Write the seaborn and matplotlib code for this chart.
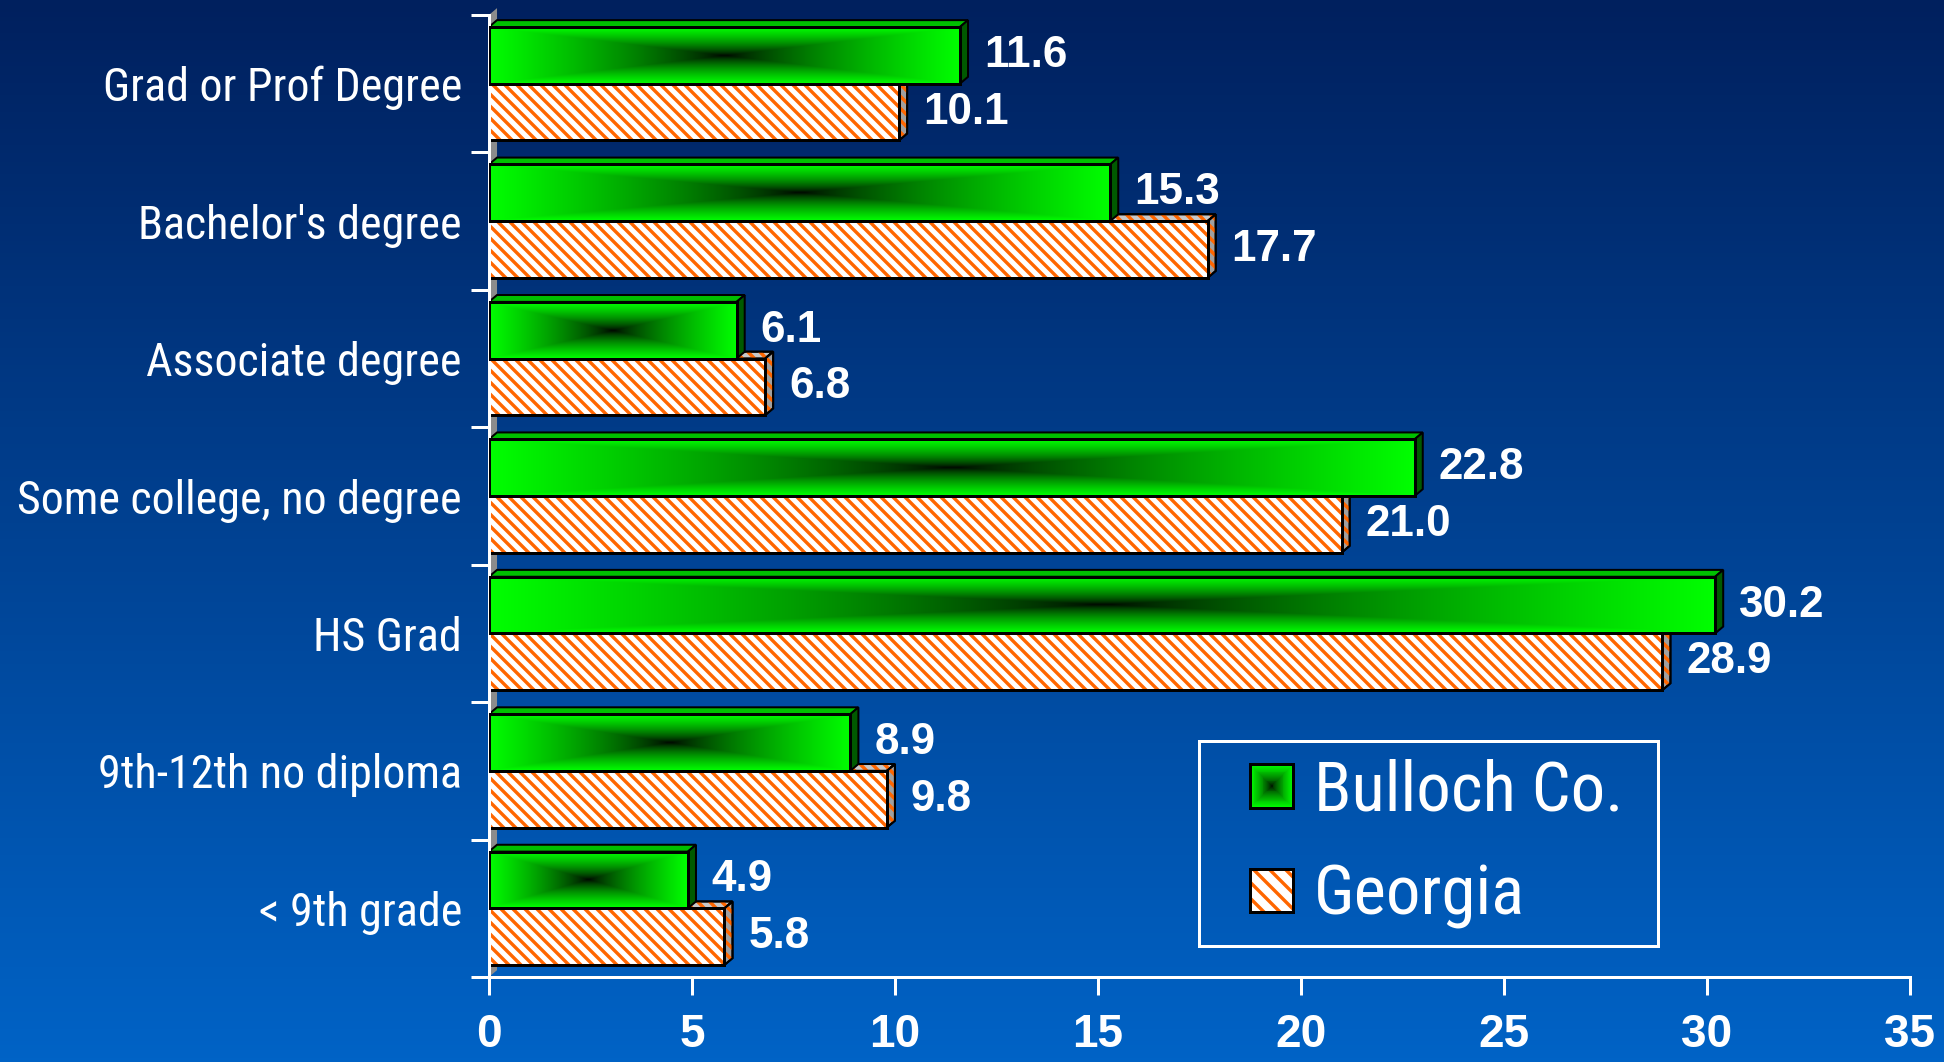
import numpy as np
import pandas as pd
import matplotlib
matplotlib.use("Agg")
from matplotlib import pyplot as plt
from matplotlib import font_manager
from matplotlib.patches import Rectangle, Polygon, Patch
from matplotlib.legend_handler import HandlerBase
import seaborn as sns

categories = ["Grad or Prof Degree", "Bachelor's degree", "Associate degree",
              "Some college, no degree", "HS Grad", "9th-12th no diploma", "< 9th grade"]
bulloch = [11.6, 15.3, 6.1, 22.8, 30.2, 8.9, 4.9]
georgia = [10.1, 17.7, 6.8, 21.0, 28.9, 9.8, 5.8]
series = ["Bulloch Co.", "Georgia"]
xticks = [0, 5, 10, 15, 20, 25, 30, 35]

# narrow face for the labels (Arial Narrow look), whatever is installed
names = {f.name for f in font_manager.fontManager.ttflist}
narrow, stretch = "Liberation Sans", "normal"
for cand in ["Liberation Sans Narrow", "Roboto Condensed", "Open Sans Condensed"]:
    if cand in names:
        narrow = cand
        break
else:
    if any(f.name == "Roboto" and f.stretch == "condensed" for f in font_manager.fontManager.ttflist):
        narrow, stretch = "Roboto", "condensed"
print("narrow font:", narrow, stretch)

df = pd.DataFrame({
    "category": categories * 2,
    "value": bulloch + georgia,
    "series": [series[0]] * len(categories) + [series[1]] * len(categories),
})

sns.set_theme(style="white")
plt.rcParams["font.family"] = ["Liberation Sans", "DejaVu Sans"]
plt.rcParams["hatch.linewidth"] = 1.7

ORANGE = "#FF6600"
HATCH = "\\\\\\\\"

fig = plt.figure(figsize=(13.5, 7.375), dpi=144)
renderer = fig.canvas.get_renderer()


def fit_size(text, target_px, base=20):
    t = fig.text(0, 0, text, fontsize=base, family=[narrow, "DejaVu Sans"], fontstretch=stretch)
    w = t.get_window_extent(renderer).width
    t.remove()
    return base * target_px / w


cat_size = min(23, fit_size("Some college, no degree", 450))
leg_size = min(37, fit_size("Bulloch Co.", 310))

# background gradient
bg = fig.add_axes([0, 0, 1, 1], zorder=-10)
top = np.array([0, 32, 94]) / 255
bot = np.array([0, 99, 198]) / 255
t = np.linspace(0, 1, 256)[:, None]
grad = top + (bot - top) * t
bg.imshow(grad[:, None, :].repeat(2, axis=1), aspect="auto", extent=[0, 1, 0, 1])
bg.set_axis_off()

ax = fig.add_axes([0.2515, 0.080, 0.731, 0.9059], zorder=1)
ax.set_facecolor("none")

sns.barplot(data=df, y="category", x="value", hue="series", hue_order=series,
            orient="h", width=0.825, errorbar=None, legend=False, ax=ax,
            palette=["#00FF00", "white"])

dx, dy = 0.2, 0.05  # 3D depth in data units

# left wall
ax.add_patch(Polygon([(0, 6.5), (dx, 6.5 - dy), (dx, -0.5 - dy), (0, -0.5)],
                     closed=True, fc="#8C8C8C", ec="none", zorder=0.5, clip_on=False))


def faces(p, fc_top, fc_side, hatch, z):
    x0, y0 = p.get_x(), p.get_y()
    x1, y1 = x0 + p.get_width(), y0 + p.get_height()
    # y axis is inverted: y0 is the visual top
    topf = Polygon([(x0, y0), (x0 + dx, y0 - dy), (x1 + dx, y0 - dy), (x1, y0)],
                   closed=True, fc=fc_top, ec="black", lw=1, zorder=z)
    side = Polygon([(x1, y0), (x1 + dx, y0 - dy), (x1 + dx, y1 - dy), (x1, y1)],
                   closed=True, fc=fc_side, ec="black", lw=1, zorder=z)
    ax.add_patch(topf)
    ax.add_patch(side)
    if hatch:
        for f in (topf, side):
            ax.add_patch(Polygon(f.get_xy(), closed=True, fill=False, hatch=HATCH,
                                 ec=ORANGE, lw=0, zorder=z + 0.01))
            ax.add_patch(Polygon(f.get_xy(), closed=True, fill=False, ec="black",
                                 lw=1, zorder=z + 0.02))


# Georgia bars: white with orange stripes
for p in ax.containers[1]:
    faces(p, "#C8C8C8", "#A0A0A0", True, 1.5)
    p.set_facecolor("white")
    p.set_hatch(HATCH)
    p.set_edgecolor(ORANGE)
    p.set_linewidth(0)
    p.set_zorder(2)
    ax.add_patch(Rectangle(p.get_xy(), p.get_width(), p.get_height(),
                           fill=False, ec="black", lw=1.5, zorder=2.1))

# Bulloch bars: green rectangular gradient towards black centre
for p in ax.containers[0]:
    faces(p, "#00C000", "#005A00", False, 2.5)
    u = np.abs(np.linspace(-1, 1, 400))[None, :]
    v = np.abs(np.linspace(-1, 1, 60))[:, None]
    m = np.maximum(u, v) ** 0.7
    img = np.zeros((60, 400, 3))
    img[..., 1] = m
    x0, y0 = p.get_x(), p.get_y()
    im = ax.imshow(img, aspect="auto", zorder=2.6, interpolation="bilinear",
                   extent=[x0, x0 + p.get_width(), y0 + p.get_height(), y0])
    im.set_clip_path(p)
    p.set_facecolor("none")
    p.set_edgecolor("black")
    p.set_linewidth(1.5)
    p.set_zorder(2.7)

# value labels
for cont in ax.containers:
    for p in cont:
        ax.annotate(f"{p.get_width():.1f}", (p.get_width(), p.get_y() + p.get_height() / 2),
                    xytext=(12, 0), textcoords="offset points", ha="left", va="center",
                    color="white", fontsize=22, fontweight="bold", zorder=5)

ax.set_xlim(0, 35)
ax.set_ylim(6.5, -0.5)
ax.set_xticks(xticks)
ax.set_xticklabels([str(x) for x in xticks], color="white", fontsize=23, fontweight="bold")
ax.set_yticks(range(len(categories)))
ax.set_yticklabels(categories, color="white", fontsize=cat_size,
                   family=[narrow, "DejaVu Sans"], fontstretch=stretch)
ax.set_yticks(np.arange(-0.5, 7, 1), minor=True)
ax.tick_params(axis="y", which="major", length=0, pad=13.5)
ax.tick_params(axis="y", which="minor", length=9, width=1.5, color="white", direction="out", left=True)
ax.tick_params(axis="x", which="major", length=9, width=1.5, color="white", direction="out",
               bottom=True, pad=9)
ax.set_xlabel("")
ax.set_ylabel("")
for s in ["top", "right"]:
    ax.spines[s].set_visible(False)
for s in ["left", "bottom"]:
    ax.spines[s].set_color("white")
    ax.spines[s].set_linewidth(1.5)


class GradHandler(HandlerBase):
    def create_artists(self, legend, orig_handle, xdescent, ydescent, width, height, fontsize, trans):
        s = height
        x0, y0 = -xdescent, -ydescent
        arts = []
        n = 24
        for k in range(n):
            f = 1 - k / n
            arts.append(Rectangle((x0 + s * (1 - f) / 2, y0 + s * (1 - f) / 2), s * f, s * f,
                                  fc=(0, f ** 0.7, 0), ec="none", transform=trans))
        arts.append(Rectangle((x0, y0), s, s, fill=False, ec="black", lw=1.5, transform=trans))
        return arts


class HatchHandler(HandlerBase):
    def create_artists(self, legend, orig_handle, xdescent, ydescent, width, height, fontsize, trans):
        s = height
        x0, y0 = -xdescent, -ydescent
        return [Rectangle((x0, y0), s, s, fc="white", hatch="\\\\\\", ec=ORANGE, lw=0, transform=trans),
                Rectangle((x0, y0), s, s, fill=False, ec="black", lw=1.5, transform=trans)]


h1, h2 = Patch(), Patch()
ax.add_patch(Rectangle((0.5, 0.032), 0.323, 0.213, transform=ax.transAxes, fill=False,
                       ec="white", lw=1.5, zorder=4))
hs = 20.5 / leg_size
leg = ax.legend([h1, h2], series, handler_map={h1: GradHandler(), h2: HatchHandler()},
                loc="center left", bbox_to_anchor=(0.5355, 0.1385), borderaxespad=0,
                borderpad=0, frameon=False, handlelength=hs, handleheight=hs,
                handletextpad=11.5 / leg_size,
                labelspacing=max(0.05, (59.5 - 1.17 * leg_size) / leg_size),
                prop={"family": [narrow, "DejaVu Sans"], "size": leg_size, "stretch": stretch})
for txt in leg.get_texts():
    txt.set_color("white")
leg.set_zorder(6)

fig.savefig("out.png", dpi=144)
